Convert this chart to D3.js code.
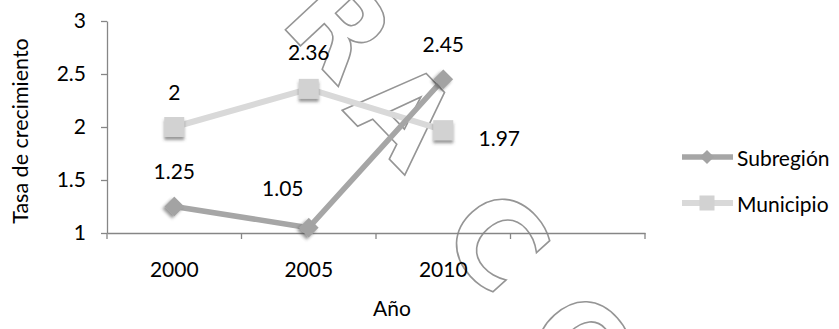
<!DOCTYPE html>
<html>
<head>
<meta charset="utf-8">
<script src="https://cdn.jsdelivr.net/npm/d3@7"></script>
<style>
  html, body { margin: 0; padding: 0; background: #fff; }
  svg { display: block; font-family: Lato, "Open Sans", sans-serif; }
</style>
</head>
<body>
<svg id="chart" width="839" height="329"></svg>
<script>
// Growth rate by year (the fourth category slot is intentionally empty)
const categories = ["2000", "2005", "2010", ""];
const subregion = [1.25, 1.05, 2.45];
const municipio = [2, 2.36, 1.97];
const yTicks = [1, 1.5, 2, 2.5, 3];
const seriesNames = ["Subregión", "Municipio"];

const svg = d3.select("#chart");

const x = d3.scaleBand().domain(categories).range([107, 645]).padding(0);
const y = d3.scaleLinear().domain([1, 3]).range([233, 21]);
const cx = c => x(c) + x.bandwidth() / 2;

const axisColor = "#868686";
const fontSize = 21;

// drop shadow for markers
const defs = svg.append("defs");
const f = defs.append("filter").attr("id", "shadow")
  .attr("x", "-50%").attr("y", "-50%").attr("width", "200%").attr("height", "200%");
f.append("feDropShadow").attr("dx", 0).attr("dy", 3).attr("stdDeviation", 1.4)
  .attr("flood-color", "#444").attr("flood-opacity", 0.55);

// outlined stamp lettering running diagonally behind the plot
const wm = svg.append("g").attr("class", "watermark");
const wmLetters = [
  { ch: "R", at: [340, 26], rot: 47 },
  { ch: "A", at: [404, 113], rot: 46 },
  { ch: "C", at: [497, 240], rot: 48 },
  { ch: "O", at: [584, 348], rot: 48 }
];
wmLetters.forEach(l => {
  wm.append("text")
    .attr("transform", `translate(${l.at[0]},${l.at[1]}) rotate(${l.rot})`)
    .attr("text-anchor", "middle")
    .attr("dy", "0.36em")
    .attr("font-family", "DejaVu Sans")
    .attr("font-weight", "bold")
    .attr("font-size", 118)
    .attr("fill", "none")
    .attr("stroke", "#959595")
    .attr("stroke-width", 1.6)
    .text(l.ch);
});

// y axis
const yAxis = svg.append("g").attr("transform", "translate(107,0)")
  .call(d3.axisLeft(y).tickValues(yTicks).tickSize(6).tickSizeOuter(0).tickPadding(15)
    .tickFormat(d => String(d)));
yAxis.select(".domain").attr("stroke", axisColor).attr("stroke-width", 1.3);
yAxis.selectAll(".tick line").attr("stroke", axisColor).attr("stroke-width", 1.3);
yAxis.selectAll(".tick text").attr("font-size", fontSize).attr("font-family", "Lato").attr("fill", "#000");

// x axis: labels at band centres, tick marks at band edges
const xAxis = svg.append("g").attr("transform", "translate(0,233)")
  .call(d3.axisBottom(x).tickSize(0).tickSizeOuter(0).tickPadding(29));
xAxis.select(".domain").attr("stroke", axisColor).attr("stroke-width", 1.3);
xAxis.selectAll(".tick text").attr("font-size", fontSize).attr("font-family", "Lato").attr("fill", "#000");
const edges = categories.map(c => x(c)).concat([x.range()[1]]);
xAxis.selectAll(".edge").data(edges).enter().append("line")
  .attr("x1", d => d).attr("x2", d => d).attr("y1", 0).attr("y2", 6)
  .attr("stroke", axisColor).attr("stroke-width", 1.3);

// axis titles
svg.append("text").attr("x", 392).attr("y", 307).attr("text-anchor", "middle")
  .attr("dominant-baseline", "central").attr("font-size", fontSize).text("Año");
svg.append("text").attr("transform", "translate(20,131) rotate(-90)")
  .attr("text-anchor", "middle").attr("dominant-baseline", "central")
  .attr("font-size", 21.5).text("Tasa de crecimiento");

const line = d3.line().x((d, i) => cx(categories[i])).y(d => y(d));

const series = [
  { name: seriesNames[0], values: subregion, line: "#a6a6a6", marker: "#a3a3a3", shape: "diamond", width: 5.5 },
  { name: seriesNames[1], values: municipio, line: "#d9d9d9", marker: "#d2d2d2", shape: "square", width: 6 }
];

function marker(g, shape, px, py, size, fill, shadow) {
  const m = shape === "diamond"
    ? g.append("rect").attr("x", -size / 2).attr("y", -size / 2).attr("width", size).attr("height", size)
        .attr("transform", `translate(${px},${py}) rotate(45)`)
    : g.append("rect").attr("x", px - size / 2).attr("y", py - size / 2).attr("width", size).attr("height", size);
  m.attr("fill", fill);
  if (shadow) m.attr("filter", "url(#shadow)");
}

// draw Municipio first so Subregión sits on top
[series[1], series[0]].forEach(s => {
  svg.append("path").datum(s.values).attr("d", line)
    .attr("fill", "none").attr("stroke", s.line).attr("stroke-width", s.width)
    .attr("stroke-linejoin", "round");
  s.values.forEach((v, i) => {
    marker(svg, s.shape, cx(categories[i]), y(v), s.shape === "diamond" ? 14 : 20, s.marker, true);
  });
});

// value labels
const labelOffset = {
  "Subregión": [[0, -36], [-26, -40], [0, -36]],
  "Municipio": [[0, -36], [0, -37], [56, 7]]
};
series.forEach(s => {
  s.values.forEach((v, i) => {
    const [dx, dy] = labelOffset[s.name][i];
    svg.append("text")
      .attr("x", cx(categories[i]) + dx).attr("y", y(v) + dy)
      .attr("text-anchor", "middle").attr("dominant-baseline", "central")
      .attr("font-size", fontSize).attr("fill", "#000")
      .text(String(v));
  });
});

// legend
const legendY = [157, 203];
series.forEach((s, i) => {
  const g = svg.append("g");
  g.append("line").attr("x1", 682).attr("x2", 733).attr("y1", legendY[i]).attr("y2", legendY[i])
    .attr("stroke", s.line).attr("stroke-width", s.width);
  marker(g, s.shape, 707, legendY[i], s.shape === "diamond" ? 10 : 15, s.marker, false);
  g.append("text").attr("x", 737).attr("y", legendY[i]).attr("dominant-baseline", "central")
    .attr("font-size", fontSize).attr("fill", "#000").text(s.name);
});
</script>
</body>
</html>
